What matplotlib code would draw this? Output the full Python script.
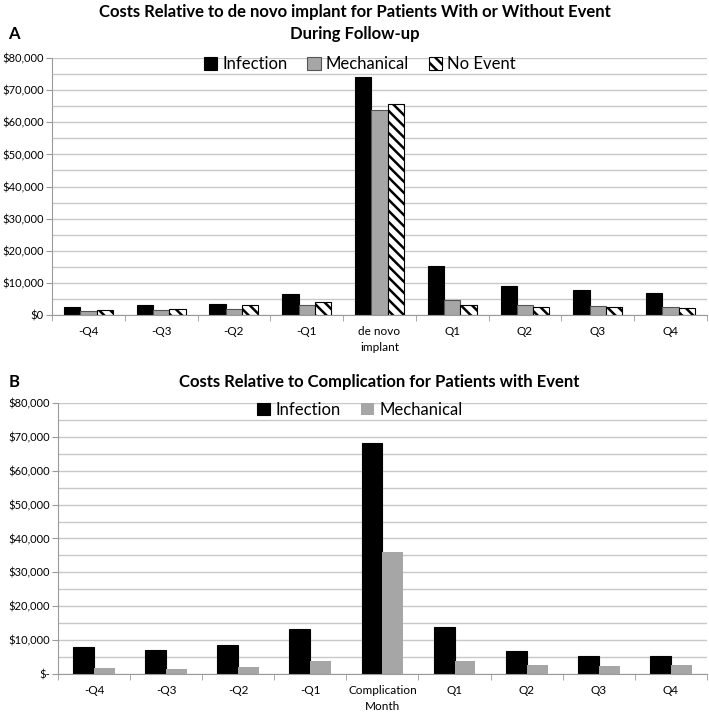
import numpy as np
import matplotlib
matplotlib.use("Agg")
import matplotlib.pyplot as plt
from matplotlib.ticker import FuncFormatter, MultipleLocator

plt.rcParams["font.family"] = ["Lato", "DejaVu Sans"]
plt.rcParams["hatch.linewidth"] = 1.8

# DATA
cats_a = ["-Q4", "-Q3", "-Q2", "-Q1", "de novo\nimplant", "Q1", "Q2", "Q3", "Q4"]
infection_a = [2600, 3300, 3600, 6500, 74200, 15300, 9100, 7700, 7000]
mechanical_a = [1350, 1550, 2000, 3300, 63900, 4650, 3300, 3000, 2500]
no_event_a = [1550, 2000, 3100, 4150, 65600, 3200, 2600, 2400, 2200]

cats_b = ["-Q4", "-Q3", "-Q2", "-Q1", "Complication\nMonth", "Q1", "Q2", "Q3", "Q4"]
infection_b = [7850, 7150, 8550, 13200, 68200, 13900, 6850, 5250, 5250]
mechanical_b = [1800, 1600, 2200, 3900, 36150, 3700, 2700, 2400, 2600]

GRID = "#c8c8c8"
GREY = "#a6a6a6"


def style_axis(ax, cats, fmt):
    ax.set_xlim(-0.5, len(cats) - 0.5)
    ax.set_ylim(0, 80000)
    ax.yaxis.set_major_locator(MultipleLocator(10000))
    ax.yaxis.set_minor_locator(MultipleLocator(5000))
    ax.yaxis.set_major_formatter(FuncFormatter(fmt))
    ax.grid(axis="y", which="both", color=GRID, linewidth=1)
    ax.set_axisbelow(True)
    for s in ["top", "right"]:
        ax.spines[s].set_visible(False)
    for s in ["left", "bottom"]:
        ax.spines[s].set_color("#9a9a9a")
    ax.tick_params(axis="y", which="major", length=4, color="#9a9a9a", labelsize=8, pad=2)
    ax.tick_params(axis="y", which="minor", length=0)
    # category labels centred, tick marks between categories
    ax.set_xticks(np.arange(len(cats)))
    ax.set_xticklabels(cats, fontsize=8.5, linespacing=1.5)
    ax.tick_params(axis="x", which="major", length=0, pad=8)
    ax.set_xticks(np.arange(len(cats) + 1) - 0.5, minor=True)
    ax.tick_params(axis="x", which="minor", length=4, color="#9a9a9a")


fig = plt.figure(figsize=(7.09, 7.13), dpi=100)

# ==========================================
# A. Costs relative to de novo implant
# ==========================================
ax1 = fig.add_axes([0.0733, 0.558, 0.9237, 0.3607])
x = np.arange(len(cats_a))
w = 0.224
ax1.bar(x - w, infection_a, w, color="black", edgecolor="black", linewidth=0.8, label="Infection")
ax1.bar(x, mechanical_a, w, color=GREY, edgecolor="#555555", linewidth=0.8, label="Mechanical")
ax1.bar(x + w, no_event_a, w, color="white", edgecolor="black", linewidth=0.8,
        hatch="\\\\\\", label="No Event")
style_axis(ax1, cats_a, lambda v, p: "${:,.0f}".format(v))
ax1.legend(loc="center", bbox_to_anchor=(0.47, 0.975), ncol=3, frameon=False,
           fontsize=12, handlelength=0.8, handleheight=0.8, handletextpad=0.3,
           columnspacing=1.2, borderaxespad=0)
fig.text(0.5, 0.983, "Costs Relative to de novo implant for Patients With or Without Event",
         ha="center", va="center", fontsize=12, fontweight="bold")
fig.text(0.5, 0.953, "During Follow-up", ha="center", va="center", fontsize=12, fontweight="bold")
fig.text(0.012, 0.953, "A", ha="left", va="center", fontsize=12, fontweight="bold")

# ==========================================
# B. Costs relative to complication
# ==========================================
ax2 = fig.add_axes([0.0818, 0.0547, 0.9152, 0.3801])
x = np.arange(len(cats_b))
w = 0.29
ax2.bar(x - w / 2, infection_b, w, color="black", edgecolor="black", linewidth=0.8, label="Infection")
ax2.bar(x + w / 2, mechanical_b, w, color=GREY, linewidth=0, label="Mechanical")


def fmt_b(v, p):
    return "$-" if v == 0 else "${:,.0f}".format(v)


style_axis(ax2, cats_b, fmt_b)
ax2.legend(loc="center", bbox_to_anchor=(0.465, 0.975), ncol=2, frameon=False,
           fontsize=12, handlelength=0.8, handleheight=0.8, handletextpad=0.3,
           columnspacing=1.2, borderaxespad=0)
fig.text(0.535, 0.464, "Costs Relative to Complication for Patients with Event",
         ha="center", va="center", fontsize=12, fontweight="bold")
fig.text(0.012, 0.464, "B", ha="left", va="center", fontsize=12, fontweight="bold")

fig.savefig("out.png", dpi=100)
